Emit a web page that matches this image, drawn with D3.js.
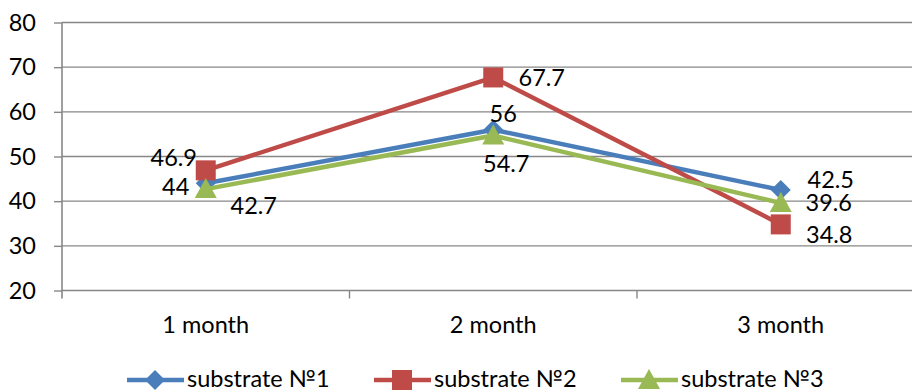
<!DOCTYPE html>
<html><head><meta charset="utf-8">
<script src="https://cdn.jsdelivr.net/npm/d3@7"></script>
<style>
html,body{margin:0;padding:0;background:#fff;}
text{font-family:Lato,"Open Sans",sans-serif;fill:#000;}
</style></head>
<body><svg id="c" width="912" height="392"></svg>
<script>
const categories = ["1 month", "2 month", "3 month"];
const seriesNames = ["substrate №1", "substrate №2", "substrate №3"];
const s1 = [44, 56, 42.5];
const s2 = [46.9, 67.7, 34.8];
const s3 = [42.7, 54.7, 39.6];
const yTicks = [20, 30, 40, 50, 60, 70, 80];

// label placement offsets (px, relative to the point): centre x, baseline y
const labelDx = [[-30, 10, 50], [-32, 48.5, 48.5], [48, 13, 48]];
const labelDy = [[11.7, -8, -2.5], [-4.6, 8.6, 18.9], [24.9, 36.5, 8.5]];

const colors = ["#4A7EBB", "#BE4B48", "#98B954"];
const shapes = ["diamond", "square", "triangle"];
const allSeries = [s1, s2, s3];

const svg = d3.select("#c");
const FS = 23.5;

const x = d3.scaleBand().domain(categories).range([62, 924.5]).padding(0);
const y = d3.scaleLinear().domain([20, 80]).range([290.5, 22.5]);
const cx = c => x(c) + x.bandwidth() / 2;

// gridlines
svg.append("g").selectAll("line").data(yTicks).join("line")
  .attr("x1", 62).attr("x2", 912)
  .attr("y1", d => y(d)).attr("y2", d => y(d))
  .attr("stroke", "#878787").attr("stroke-width", 1.4);

// y axis
const ya = svg.append("g").attr("transform", "translate(62,0)")
  .call(d3.axisLeft(y).tickValues(yTicks).tickSizeInner(8).tickSizeOuter(0).tickPadding(18));
ya.select(".domain").attr("stroke", "#878787").attr("stroke-width", 1.6);
ya.selectAll(".tick line").attr("stroke", "#878787").attr("stroke-width", 1.4);
ya.selectAll(".tick text").attr("font-size", FS).attr("font-family", "Lato").attr("fill", "#000");
ya.select(".domain").attr("d", `M0,${y(20) + 8}V${y(80)}`);

// x axis
const xa = svg.append("g").attr("transform", `translate(0,${y(20)})`)
  .call(d3.axisBottom(x).tickSize(0).tickPadding(26));
xa.select(".domain").remove();
xa.selectAll(".tick text").attr("font-size", FS).attr("font-family", "Lato").attr("fill", "#000");
// boundary ticks
const bounds = categories.map(c => x(c)).concat([x(categories[categories.length - 1]) + x.bandwidth()]);
svg.append("g").selectAll("line").data(bounds.slice(1)).join("line")
  .attr("x1", d => d).attr("x2", d => d)
  .attr("y1", y(20)).attr("y2", y(20) + 8)
  .attr("stroke", "#878787").attr("stroke-width", 1.4);

function marker(g, shape, color, px, py) {
  if (shape === "diamond") {
    g.append("path").attr("d", `M${px},${py - 10}L${px + 10},${py}L${px},${py + 10}L${px - 10},${py}Z`).attr("fill", color);
  } else if (shape === "square") {
    g.append("rect").attr("x", px - 10).attr("y", py - 10).attr("width", 20).attr("height", 20).attr("fill", color);
  } else {
    g.append("path").attr("d", `M${px},${py - 11}L${px + 11},${py + 9}L${px - 11},${py + 9}Z`).attr("fill", color);
  }
}

const line = d3.line().x((d, i) => cx(categories[i])).y(d => y(d));
allSeries.forEach((vals, si) => {
  const g = svg.append("g");
  g.append("path").datum(vals).attr("d", line).attr("fill", "none")
    .attr("stroke", colors[si]).attr("stroke-width", 4.5).attr("stroke-linejoin", "round");
  vals.forEach((v, i) => marker(g, shapes[si], colors[si], cx(categories[i]), y(v)));
});
allSeries.forEach((vals, si) => {
  svg.append("g").selectAll("text").data(vals).join("text")
    .attr("x", (d, i) => cx(categories[i]) + labelDx[si][i])
    .attr("y", (d, i) => y(d) + labelDy[si][i])
    .attr("text-anchor", "middle").attr("font-size", FS)
    .text(d => d);
});

// legend
const lg = svg.append("g");
seriesNames.forEach((name, si) => {
  const x0 = 127 + si * 247, ly = 380;
  lg.append("line").attr("x1", x0).attr("x2", x0 + 57).attr("y1", ly).attr("y2", ly)
    .attr("stroke", colors[si]).attr("stroke-width", 4.5);
  marker(lg, shapes[si], colors[si], x0 + 28, ly);
  lg.append("text").attr("x", x0 + 60).attr("y", 387).attr("font-size", FS).text(name);
});
</script></body></html>
